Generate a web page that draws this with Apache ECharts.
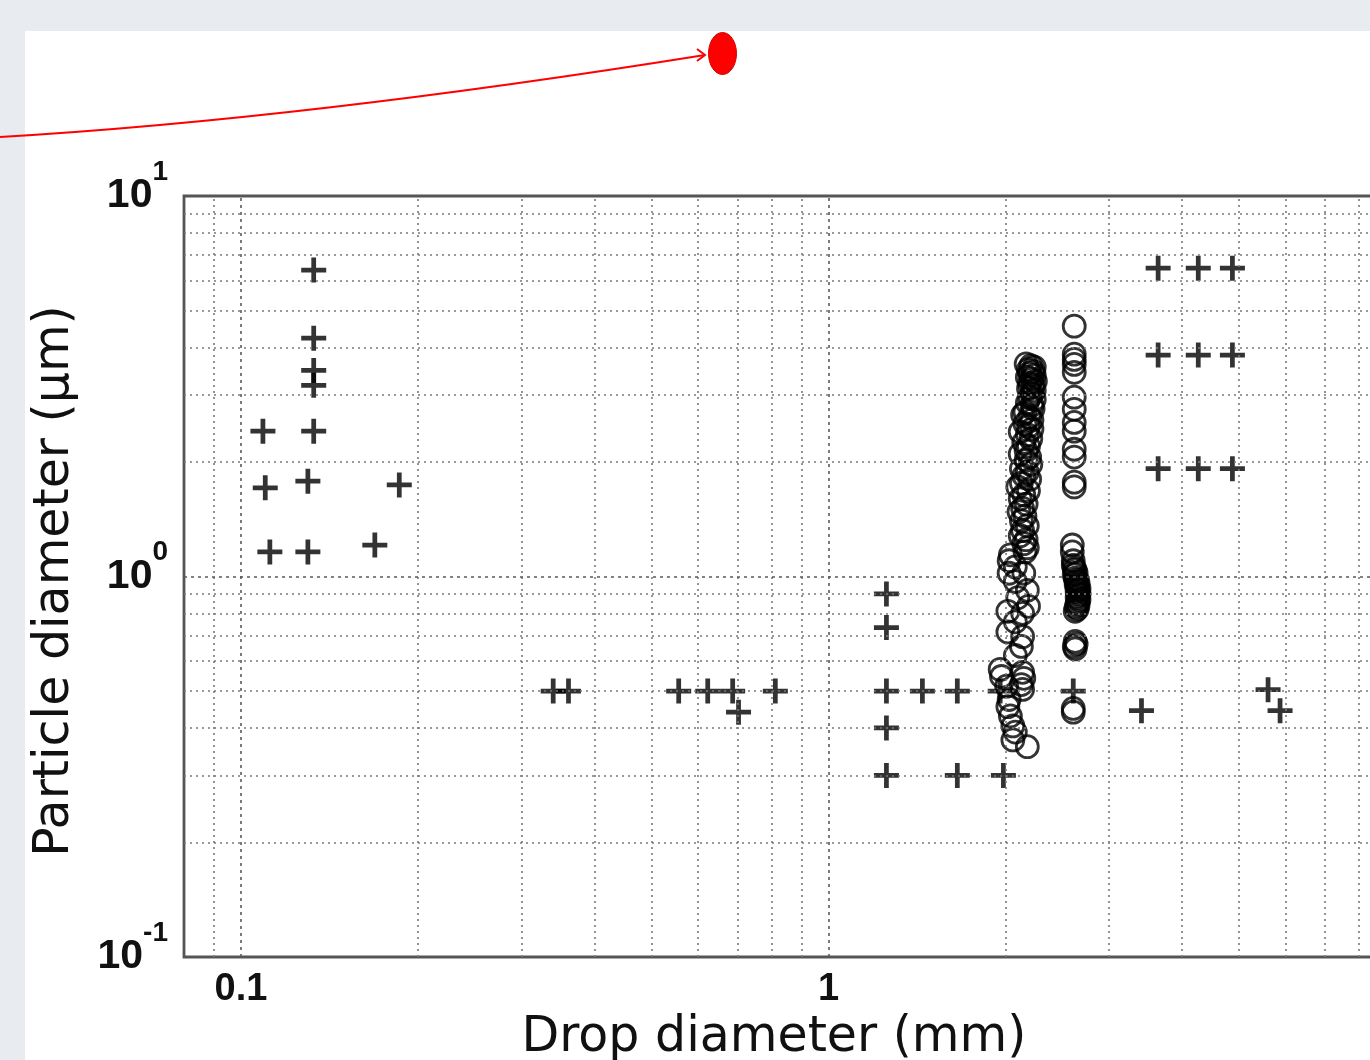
<!DOCTYPE html>
<html>
<head>
<meta charset="utf-8">
<title>Particle diameter vs drop diameter</title>
<script src="https://cdn.jsdelivr.net/npm/echarts@6/dist/echarts.min.js"></script>
<style>
  html, body { margin: 0; padding: 0; background: #e8ecf0; overflow: hidden; width: 1370px; height: 1060px; }
  .panel { position: absolute; left: 25px; top: 31px; right: 0; bottom: 0; background: #fff; }
  /* the plot frame runs past the right edge of the picture, so the canvas is wider than the page */
  #chart { position: absolute; left: 0; top: 0; width: 1420px; height: 1060px; }
</style>
</head>
<body>
<div class="panel"></div>
<div id="chart"></div>
<script>
// tick labels
const xLabelVals = [0.1, 1]
const yLabelExps = [-1, 0, 1]

// dotted grid positions (log decades)
const xGridVals = [0.09, 0.1, 0.2, 0.3, 0.4, 0.5, 0.6, 0.7, 0.8, 0.9, 1, 2, 3, 4, 5, 6, 7, 8, 9]
const yGridVals = [0.2, 0.3, 0.4, 0.5, 0.6, 0.7, 0.8, 0.9, 1, 2, 3, 4, 5, 6, 7, 8, 9]
const majorVals = [0.1, 1, 10]

// '+' markers [drop mm, particle um]
const plusPts = [
  [0.133, 6.39], [0.133, 4.23], [0.133, 3.48], [0.133, 3.18], [0.133, 2.41], [0.109, 2.41],
  [0.110, 1.71], [0.130, 1.78], [0.186, 1.74], [0.112, 1.16], [0.130, 1.16], [0.169, 1.21],
  [0.340, 0.5], [0.361, 0.5], [0.556, 0.5], [0.623, 0.5], [0.687, 0.5], [0.703, 0.44], [0.812, 0.5],
  [1.255, 0.9], [1.255, 0.734], [1.255, 0.5], [1.445, 0.5], [1.657, 0.5], [1.96, 0.5],
  [1.255, 0.4], [1.255, 0.3], [1.657, 0.3], [1.985, 0.3], [2.61, 0.5],
  [3.64, 6.46], [4.26, 6.46], [4.87, 6.46], [3.64, 3.82], [4.26, 3.82], [4.87, 3.82],
  [3.64, 1.92], [4.26, 1.92], [4.87, 1.92], [3.41, 0.444], [5.60, 0.504], [5.87, 0.444]
]

// 'o' markers [drop mm, particle um]
const circlePts = [
  // column near 2.6 mm
  [2.62, 4.55], [2.62, 3.84], [2.62, 3.72], [2.62, 3.61], [2.62, 3.44], [2.62, 2.96], [2.62, 2.75],
  [2.62, 2.54], [2.62, 2.41], [2.62, 2.16], [2.62, 2.06], [2.62, 1.77], [2.62, 1.72],
  [2.60, 1.21], [2.60, 1.16], [2.61, 1.10], [2.61, 1.07], [2.62, 1.05], [2.63, 1.04], [2.64, 1.02],
  [2.62, 1.01], [2.63, 0.99], [2.65, 0.98], [2.64, 0.97], [2.66, 0.96], [2.64, 0.95], [2.65, 0.94],
  [2.67, 0.93], [2.66, 0.92], [2.65, 0.91], [2.67, 0.90], [2.66, 0.89], [2.65, 0.88], [2.67, 0.87],
  [2.66, 0.86], [2.65, 0.85], [2.66, 0.84], [2.64, 0.83], [2.65, 0.82], [2.63, 0.81],
  [2.63, 0.675], [2.64, 0.665], [2.62, 0.655], [2.63, 0.645], [2.61, 0.45], [2.61, 0.44],
  // column near 2.1 mm
  [2.17, 3.62], [2.21, 3.58], [2.24, 3.55], [2.19, 3.50], [2.23, 3.46], [2.20, 3.42], [2.24, 3.38],
  [2.18, 3.34], [2.22, 3.30], [2.25, 3.26], [2.20, 3.22], [2.23, 3.18], [2.19, 3.12], [2.24, 3.08],
  [2.22, 3.02], [2.20, 2.96], [2.24, 2.92], [2.18, 2.86], [2.22, 2.82], [2.23, 2.76], [2.16, 2.70],
  [2.14, 2.66], [2.20, 2.62], [2.22, 2.58], [2.16, 2.52], [2.19, 2.48], [2.22, 2.44], [2.12, 2.40],
  [2.18, 2.36], [2.21, 2.30], [2.15, 2.25], [2.19, 2.20], [2.17, 2.14], [2.12, 2.10], [2.20, 2.06],
  [2.17, 2.02], [2.21, 1.97], [2.13, 1.92], [2.18, 1.88], [2.15, 1.84], [2.20, 1.80], [2.13, 1.76],
  [2.10, 1.72], [2.19, 1.68], [2.15, 1.64], [2.12, 1.60], [2.17, 1.55], [2.14, 1.51], [2.11, 1.48],
  [2.16, 1.44], [2.13, 1.40], [2.18, 1.36], [2.14, 1.32], [2.12, 1.28], [2.17, 1.25], [2.15, 1.22],
  [2.18, 1.19], [2.04, 1.14], [2.16, 1.16], [2.03, 1.10], [2.08, 1.06], [2.03, 1.02], [2.15, 1.02],
  [2.08, 0.97], [2.18, 0.92], [2.10, 0.88], [2.19, 0.835], [2.02, 0.81], [2.14, 0.80], [2.08, 0.76],
  [2.02, 0.715], [2.14, 0.695], [2.13, 0.655], [2.08, 0.62], [1.96, 0.57], [1.97, 0.546], [2.14, 0.56],
  [2.01, 0.515], [2.14, 0.505], [2.13, 0.52], [2.15, 0.54], [2.03, 0.475], [2.02, 0.455], [2.04, 0.43],
  [2.06, 0.405], [2.08, 0.39], [2.06, 0.372], [2.18, 0.357]
]

function near (a, b) {
  return Math.abs(a - b) < Math.abs(b) * 1e-6
}

function isMajor (v) {
  return majorVals.some(m => near(v, m))
}

const labelFont = 'Liberation Sans'
const titleFont = 'DejaVu Sans'
const plusPath = 'path://M8.1,0H11.9V8.1H20V11.9H11.9V20H8.1V11.9H0V8.1H8.1Z'
const minorStyle = { color: '#7a7a7a', type: [2, 4], width: 1.6 }
const majorStyle = { color: '#5a5a5a', type: [3, 4], width: 1.6 }

const gridLines = []
xGridVals.forEach(v => {
  gridLines.push({ xAxis: v, lineStyle: isMajor(v) ? majorStyle : minorStyle })
})
yGridVals.forEach(v => {
  gridLines.push({ yAxis: v, lineStyle: isMajor(v) ? majorStyle : minorStyle })
})

const chart = echarts.init(document.getElementById('chart'), null, { renderer: 'canvas' })
chart.setOption({
  animation: false,
  backgroundColor: 'transparent',
  grid: {
    left: 184,
    top: 196,
    right: 4,
    bottom: 103,
    outerBoundsMode: 'none',
    containLabel: false,
    show: true,
    borderColor: '#555',
    borderWidth: 2.8,
    backgroundColor: 'transparent'
  },
  xAxis: {
    type: 'log',
    logBase: 10,
    min: 0.08,
    max: 10,
    axisLine: { show: false },
    axisTick: { show: false },
    splitLine: { show: false },
    axisLabel: {
      margin: 14,
      fontSize: 38,
      fontWeight: 'bold',
      fontFamily: labelFont,
      color: '#111',
      showMinLabel: true,
      formatter: v => {
        const hit = xLabelVals.find(t => near(v, t))
        return hit !== undefined ? String(hit) : ''
      }
    }
  },
  yAxis: {
    type: 'log',
    logBase: 10,
    min: 0.1,
    max: 10,
    axisLine: { show: false },
    axisTick: { show: false },
    splitLine: { show: false },
    axisLabel: {
      margin: 16,
      showMinLabel: true,
      showMaxLabel: true,
      formatter: v => {
        const e = Math.round(Math.log10(v))
        if (yLabelExps.includes(e) && near(v, Math.pow(10, e))) {
          return '{b|10}{s|' + e + '}'
        }
        return ''
      },
      rich: {
        b: { fontSize: 41, fontWeight: 'bold', fontFamily: labelFont, color: '#111', lineHeight: 76 },
        s: { fontSize: 28, fontWeight: 'bold', fontFamily: labelFont, color: '#111', verticalAlign: 'top' }
      }
    }
  },
  graphic: [
    {
      type: 'text',
      x: 774,
      y: 1038,
      silent: true,
      style: { text: 'Drop diameter (mm)', fontSize: 49, fontFamily: titleFont, fill: '#111', align: 'center', verticalAlign: 'middle' }
    },
    {
      type: 'text',
      x: 55,
      y: 581,
      rotation: Math.PI / 2,
      silent: true,
      style: { text: 'Particle diameter (μm)', fontSize: 49, fontFamily: titleFont, fill: '#111', align: 'center', verticalAlign: 'middle' }
    },
    // red annotation arrow
    {
      type: 'bezierCurve',
      silent: true,
      shape: { x1: 0, y1: 137, x2: 705, y2: 55, cpx1: 305, cpy1: 119 },
      style: { stroke: '#f00', lineWidth: 2, fill: null }
    },
    {
      type: 'polyline',
      silent: true,
      shape: { points: [[697, 49], [705, 55], [697, 61]] },
      style: { stroke: '#f00', lineWidth: 2, fill: null }
    },
    {
      type: 'ellipse',
      silent: true,
      shape: { cx: 722.5, cy: 53.5, rx: 14, ry: 21 },
      style: { fill: '#ff0000', stroke: '#d40000', lineWidth: 1 }
    }
  ],
  series: [
    {
      name: 'grid',
      type: 'scatter',
      data: [],
      z: 1,
      silent: true,
      markLine: {
        silent: true,
        symbol: 'none',
        animation: false,
        label: { show: false },
        data: gridLines
      }
    },
    {
      name: 'plus',
      type: 'scatter',
      z: 3,
      data: plusPts,
      symbol: plusPath,
      symbolSize: 25,
      itemStyle: { color: '#000' }
    },
    {
      name: 'circle',
      type: 'scatter',
      z: 4,
      data: circlePts,
      symbol: 'circle',
      symbolSize: 22,
      itemStyle: { color: 'rgba(0,0,0,0)', borderColor: '#000', borderWidth: 2.8 }
    }
  ]
})
</script>
</body>
</html>
